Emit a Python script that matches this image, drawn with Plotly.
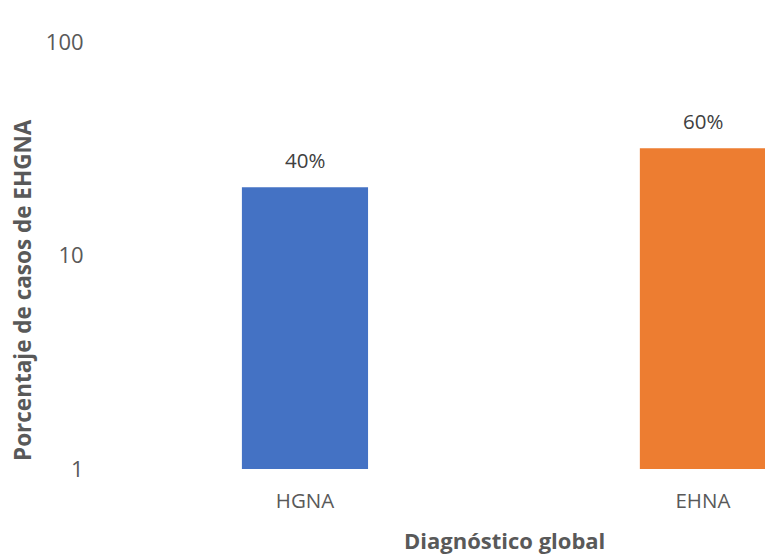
import plotly.graph_objects as go
import math

categories = ["HGNA", "EHNA"]
values = [20.9, 31.8]
labels = ["40%", "60%"]
colors = ["#4472C4", "#ED7D31"]
y_ticks = [1, 10, 100]
x_title = "Diagnóstico global"
y_title = "Porcentaje de casos de EHGNA"

FONT = "Open Sans"
GRAY = "#595959"

fig = go.Figure()
fig.add_trace(go.Bar(
    x=categories, y=values, marker=dict(color=colors, line=dict(width=0)),
    width=0.317, showlegend=False, hoverinfo="skip",
))

for c, v, t in zip(categories, values, labels):
    fig.add_annotation(x=c, y=math.log10(v), text=t, showarrow=False,
                       yanchor="bottom", yshift=11,
                       font=dict(family=FONT, size=20.5, color="#404040"))

# axis titles (original chart is cropped, so titles sit off-centre)
fig.add_annotation(text="<b>%s</b>" % x_title, xref="paper", yref="paper",
                   x=(504 - 106) / 659, y=-(540 - 469) / 427, xanchor="center", yanchor="middle",
                   showarrow=False, font=dict(family=FONT, size=22, color=GRAY))
fig.add_annotation(text="<b>%s</b>" % y_title, xref="paper", yref="paper",
                   x=-(106 - 22) / 659, y=(469 - 290) / 427, xanchor="center", yanchor="middle",
                   textangle=-90, showarrow=False, font=dict(family=FONT, size=22.5, color=GRAY))

fig.update_layout(
    width=765, height=558,
    margin=dict(l=106, r=0, t=42, b=89),
    paper_bgcolor="white", plot_bgcolor="white",
    font=dict(family=FONT, color=GRAY),
    xaxis=dict(
        range=[-0.5, 1.156], showgrid=False, showline=False, zeroline=False,
        tickfont=dict(family=FONT, size=20.5, color=GRAY),
        ticks="outside", ticklen=13, tickcolor="rgba(0,0,0,0)",
    ),
    yaxis=dict(
        type="log", range=[0, 2], tickvals=y_ticks, ticktext=[str(v) for v in y_ticks],
        showgrid=False, showline=False, zeroline=False,
        tickfont=dict(family=FONT, size=22, color=GRAY),
        ticks="outside", ticklen=17, tickcolor="rgba(0,0,0,0)",
    ),
)

fig.write_html("out.html")
